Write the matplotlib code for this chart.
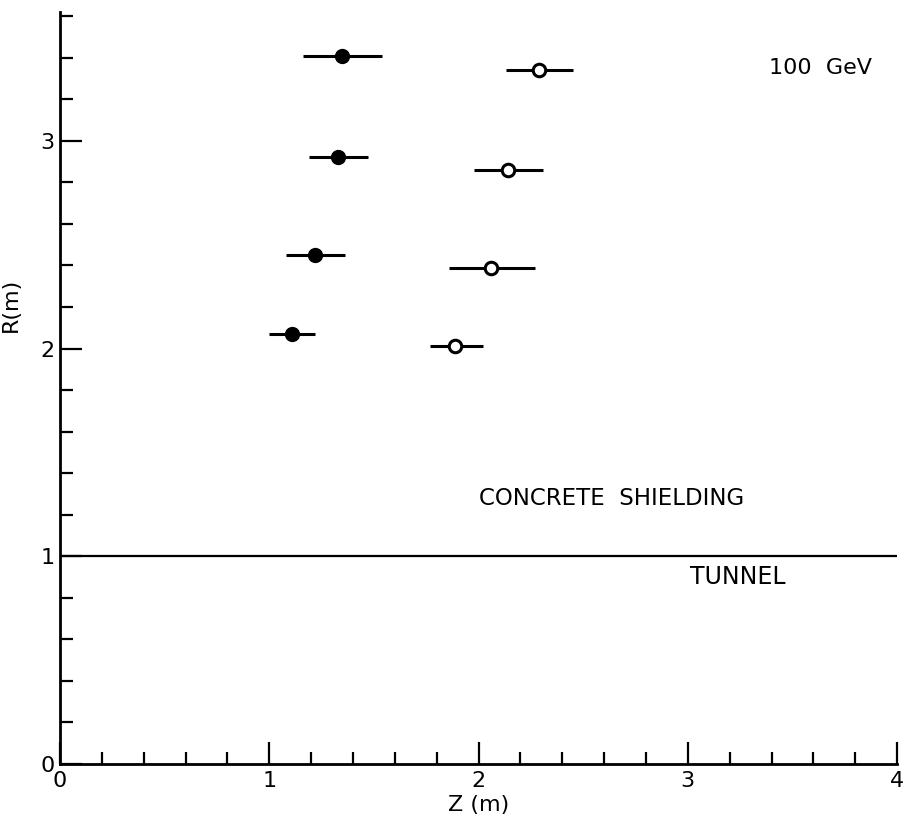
import numpy as np
import matplotlib.pyplot as plt
from matplotlib.ticker import MultipleLocator

# filled points
z_filled = [1.35, 1.33, 1.22, 1.11]
z_filled_lo = [1.16, 1.19, 1.08, 1.00]
z_filled_hi = [1.54, 1.47, 1.36, 1.22]
r_filled = [3.41, 2.92, 2.45, 2.07]

# open points
z_open = [2.29, 2.14, 2.06, 1.89]
z_open_lo = [2.13, 1.98, 1.86, 1.77]
z_open_hi = [2.45, 2.31, 2.27, 2.02]
r_open = [3.34, 2.86, 2.39, 2.01]

tunnel_r = 1.0

fig = plt.figure(figsize=(9.08, 8.24), dpi=100)
ax = fig.add_axes([0.066, 0.0728, 0.922, 0.9126])

zf = np.array(z_filled)
zo = np.array(z_open)
ax.errorbar(zf, r_filled,
            xerr=[zf - np.array(z_filled_lo), np.array(z_filled_hi) - zf],
            fmt='o', color='black', ms=10, elinewidth=2.2, capsize=0)
ax.errorbar(zo, r_open,
            xerr=[zo - np.array(z_open_lo), np.array(z_open_hi) - zo],
            fmt='o', color='black', mfc='white', mew=2.2, ms=9,
            elinewidth=2.2, capsize=0)

ax.axhline(tunnel_r, color='black', lw=1.6)

ax.text(3.39, 3.35, "100  GeV", fontsize=16, va='center')
ax.text(2.0, 1.28, "CONCRETE  SHIELDING", fontsize=16.5, va='center')
ax.text(3.01, 0.90, "TUNNEL", fontsize=17, va='center')

ax.set_xlim(0, 4)
ax.set_ylim(0, 3.62)
ax.xaxis.set_major_locator(MultipleLocator(1))
ax.xaxis.set_minor_locator(MultipleLocator(0.2))
ax.yaxis.set_major_locator(MultipleLocator(1))
ax.yaxis.set_minor_locator(MultipleLocator(0.2))
ax.tick_params(which='both', direction='in', width=1.6, labelsize=16)
ax.tick_params(which='major', length=16)
ax.tick_params(which='minor', length=9)
ax.tick_params(axis='x', pad=5)
ax.tick_params(axis='y', pad=4)

for s in ['top', 'right']:
    ax.spines[s].set_visible(False)
for s in ['left', 'bottom']:
    ax.spines[s].set_linewidth(2)

ax.set_xlabel("Z (m)", fontsize=16, labelpad=3)
ax.set_ylabel("R(m)", fontsize=16)
ax.yaxis.set_label_coords(-0.047, 0.61)

fig.savefig("out.png", dpi=100)
